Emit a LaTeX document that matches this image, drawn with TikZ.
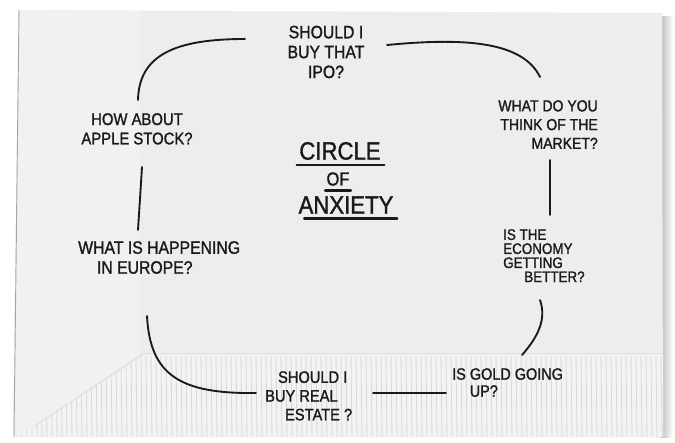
\documentclass[tikz,border=0pt]{standalone}
\usepackage{fontspec}
\setmainfont{Liberation Sans}[FakeStretch=0.88, FakeBold=1.3]
\definecolor{ink}{HTML}{1A1A1A}
\definecolor{napkin}{HTML}{EDEDED}
\definecolor{napkinlight}{HTML}{F1F1F1}
\definecolor{fringe}{HTML}{F3F3F3}
\begin{document}
\begin{tikzpicture}[x=0.03cm,y=-0.03cm,
  hand/.style={inner sep=0pt, text=ink, font=\fontsize{15.3}{17}\selectfont},
  title/.style={inner sep=0pt, text=ink, font=\fontsize{21.5}{22}\selectfont},
  con/.style={draw=ink, line width=1.6pt, line cap=round},
  uline/.style={draw=ink, line width=2pt, line cap=round},
]
% --- background / napkin ---
\useasboundingbox (0,0) rectangle (675,442);
\fill[white] (0,0) rectangle (675,442);
\shade[left color=gray!55, right color=white] (660,16) rectangle (673,437);
\fill[napkin] (19,10) -- (662,13) -- (663,437) -- (13,437) -- cycle;
\fill[napkinlight] (19,10) -- (140,11) -- (140,354) -- (33,427) -- (13,437) -- cycle;
\draw[gray!70, line width=0.8pt] (19,10) -- (14,437);
\begin{scope}
  \clip (33,427) -- (143,354) -- (663,354) -- (663,437) -- (13,437) -- cycle;
  \fill[fringe] (0,350) rectangle (675,442);
  \foreach \x in {16,21,...,662} {
    \draw[gray!30, line width=0.7pt] (\x,356) -- (\x+1,437);
  }
\end{scope}
\draw[gray!30, line width=0.6pt] (33,427) -- (143,354) -- (663,354);

% --- labels ---
\node[hand, align=center] (ipo) at (326,52) {SHOULD I\\BUY THAT\\IPO?};
\node[hand, align=right, anchor=north east, font=\fontsize{13.6}{16}\selectfont] (market) at (598,100) {WHAT DO YOU\\THINK OF THE\\MARKET?};
\node[hand, align=center, anchor=north, font=\fontsize{14.4}{16.5}\selectfont] (apple) at (137,113) {HOW ABOUT\\APPLE STOCK?};
\node[hand, align=left, anchor=north west] (europe) at (78,241) {WHAT IS HAPPENING\\\hspace*{16pt}IN EUROPE?};
\node[hand, align=left, anchor=north west, font=\fontsize{13}{12}\selectfont] (economy) at (503,229) {IS THE\\ECONOMY\\GETTING\\\hspace*{18pt}BETTER?};
\node[hand, align=left, anchor=north west, font=\fontsize{14}{14.5}\selectfont] (gold) at (452,368) {IS GOLD GOING\\\hspace*{15pt}UP?};
\node[hand, align=left, anchor=north west, font=\fontsize{14.2}{16}\selectfont] (estate) at (265,371) {\hspace*{11pt}SHOULD I\\BUY REAL\\\hspace*{17pt}ESTATE ?};

% --- title ---
\node[title] (t1) at (340,151) {CIRCLE};
\node[title, font=\fontsize{16}{16}\selectfont] (t2) at (338,179) {OF};
\node[title] (t3) at (346,205) {ANXIETY};
\draw[uline] ([xshift=-2pt,yshift=-4pt]t1.south west) -- ([xshift=3pt,yshift=-4pt]t1.south east);
\draw[uline] ([xshift=-1pt,yshift=-4pt]t2.south west) -- ([xshift=1pt,yshift=-4pt]t2.south east);
\draw[uline] ([xshift=5pt,yshift=-4pt]t3.south west) -- ([xshift=3pt,yshift=-4pt]t3.south east);

% --- connector end points ---
\coordinate (a1) at (138,100);
\coordinate (a2) at (245,39);
\coordinate (b1) at (387,45);
\coordinate (b2) at (540,77);
\coordinate (c1) at (550,160);
\coordinate (c2) at (550,215);
\coordinate (d1) at (540,300);
\coordinate (d2) at (522,355);
\coordinate (e1) at (446,393);
\coordinate (e2) at (373,393);
\coordinate (f1) at (256,393);
\coordinate (f2) at (147,316);
\coordinate (g1) at (138,230);
\coordinate (g2) at (142,167);

% --- connectors ---
\draw[con] (a1) .. controls (139,55) and (175,39) .. (a2);
\draw[con] (b1) .. controls (460,38) and (522,40) .. (b2);
\draw[con] (c1) -- (c2);
\draw[con] (d1) .. controls (547,320) and (537,338) .. (d2);
\draw[con] (e1) -- (e2);
\draw[con] (f1) .. controls (180,394) and (150,375) .. (f2);
\draw[con] (g1) -- (g2);
\end{tikzpicture}
\end{document}
